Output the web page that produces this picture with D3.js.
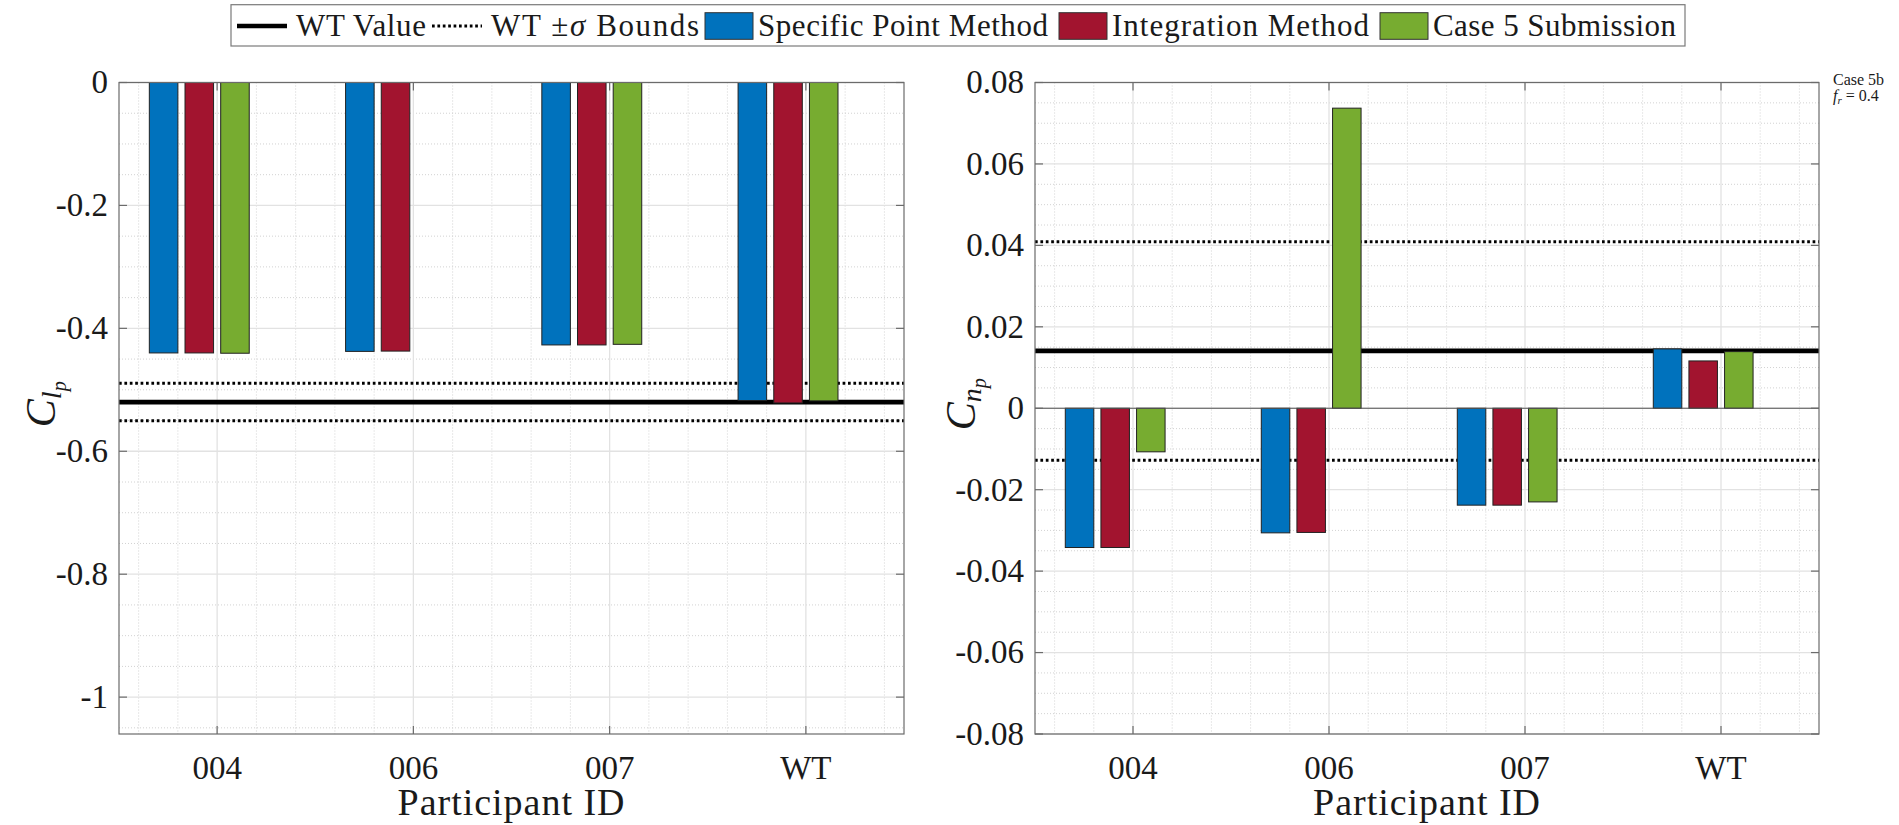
<!DOCTYPE html>
<html><head><meta charset="utf-8">
<script src="https://cdn.jsdelivr.net/npm/d3@7"></script>
<style>
body{margin:0;background:#fff}
svg{display:block}
</style>
</head><body>
<svg id="chart" width="1899" height="825"></svg>
<script>
// ---------------- data ----------------
const categories = ["004", "006", "007", "WT"];
const seriesNames = ["Specific Point Method", "Integration Method", "Case 5 Submission"];
const seriesColors = ["#0072BD", "#A2142F", "#77AC30"];
const slotNames = ["Specific Point Method", "Integration Method", "Case 5 Submission", "(empty)"];

// Left panel: C_lp
const clpSpecific    = [-0.440, -0.4375, -0.427, -0.5175];
const clpIntegration = [-0.440, -0.4370, -0.427, -0.5214];
const clpSubmission  = [-0.4405, NaN,    -0.426, -0.5180];
const clpWT = -0.520;
const clpWTBounds = [-0.4895, -0.5505];
const clpTicks = [0, -0.2, -0.4, -0.6, -0.8, -1];
const clpTickLabels = ["0", "-0.2", "-0.4", "-0.6", "-0.8", "-1"];
const clpDomain = [-1.06, 0];

// Right panel: C_np
const cnpSpecific    = [-0.0342, -0.0306, -0.0238, 0.01457];
const cnpIntegration = [-0.0342, -0.0305, -0.0238, 0.01162];
const cnpSubmission  = [-0.0107,  0.0737, -0.0230, 0.01391];
const cnpWT = 0.0141;
const cnpWTBounds = [0.0409, -0.0128];
const cnpTicks = [0.08, 0.06, 0.04, 0.02, 0, -0.02, -0.04, -0.06, -0.08];
const cnpTickLabels = ["0.08", "0.06", "0.04", "0.02", "0", "-0.02", "-0.04", "-0.06", "-0.08"];
const cnpDomain = [-0.08, 0.08];

const annotationLines = ["Case 5b", "f_r = 0.4"];

// ---------------- drawing ----------------
const FONT = "Liberation Serif";
const TXT = "#1a1a1a";
const svg = d3.select("#chart");
svg.append("rect").attr("width", 1899).attr("height", 825).attr("fill", "#fff");

const AX = "#6b6b6b";
const MAJOR_GRID = "#e2e2e2";
const MINOR_GRID = "#d2d2d2";

function txt(sel) { return sel.attr("font-family", FONT).attr("fill", TXT); }
// spread a text to a target width by letter spacing (no glyph distortion)
function fitWidth(t, target) {
  const n = t.text().length;
  const w = t.node().getComputedTextLength();
  if (n > 1) t.attr("letter-spacing", ((target - w) / (n - 1)).toFixed(2));
  return t;
}

function drawPanel(p) {
  const g = svg.append("g");
  const x = d3.scaleBand().domain(categories).range([p.x0, p.x1]);
  const nSlots = slotNames.length;
  const groupW = Math.min(0.8, nSlots / (nSlots + 1.5));
  x.paddingInner(1 - groupW).paddingOuter((1 - groupW) / 2);
  const xs = d3.scaleBand().domain(slotNames).range([0, x.bandwidth()]).paddingInner(0.2).paddingOuter(0.1);
  const xIdx = d3.scaleLinear().domain([0.5, categories.length + 0.5]).range([p.x0, p.x1]);
  const y = d3.scaleLinear().domain(p.domain).range([p.y1, p.y0]);
  const center = c => x(c) + x.bandwidth() / 2;

  // minor grid (dotted)
  const mStep = p.minorStep;
  const mLo = Math.ceil(p.domain[0] / mStep - 1e-6), mHi = Math.floor(p.domain[1] / mStep + 1e-6);
  const yMinor = d3.range(mLo, mHi + 1).filter(i => i % 4 !== 0).map(i => i * mStep);
  g.selectAll(".ymin").data(yMinor).join("line")
    .attr("x1", p.x0).attr("x2", p.x1).attr("y1", d => y(d)).attr("y2", d => y(d))
    .attr("stroke", MINOR_GRID).attr("stroke-width", 1).attr("stroke-dasharray", "1,2");
  const xMinor = d3.range(3, 5 * categories.length + 3).filter(k => k % 5 !== 0).map(k => k * 0.2);
  g.selectAll(".xmin").data(xMinor).join("line")
    .attr("x1", d => xIdx(d)).attr("x2", d => xIdx(d)).attr("y1", p.y0).attr("y2", p.y1)
    .attr("stroke", MINOR_GRID).attr("stroke-width", 1).attr("stroke-dasharray", "1,2");

  // major grid
  g.selectAll(".ymaj").data(p.ticks).join("line")
    .attr("x1", p.x0).attr("x2", p.x1).attr("y1", d => y(d)).attr("y2", d => y(d))
    .attr("stroke", MAJOR_GRID).attr("stroke-width", 1.3);
  g.selectAll(".xmaj").data(categories).join("line")
    .attr("x1", d => center(d)).attr("x2", d => center(d)).attr("y1", p.y0).attr("y2", p.y1)
    .attr("stroke", MAJOR_GRID).attr("stroke-width", 1.3);

  // WT reference lines (behind bars)
  g.selectAll(".bnd").data(p.bounds).join("line")
    .attr("x1", p.x0).attr("x2", p.x1).attr("y1", d => y(d)).attr("y2", d => y(d))
    .attr("stroke", "#000").attr("stroke-width", 3).attr("stroke-dasharray", "2.7,2.7");
  g.append("line").attr("x1", p.x0).attr("x2", p.x1).attr("y1", y(p.wt)).attr("y2", y(p.wt))
    .attr("stroke", "#000").attr("stroke-width", 4.6);

  // bars
  p.series.forEach((vals, si) => {
    g.selectAll(".bar" + si).data(categories.map((c, i) => ({ c, v: vals[i] })).filter(d => !isNaN(d.v)))
      .join("rect")
      .attr("x", d => x(d.c) + xs(slotNames[si]))
      .attr("width", xs.bandwidth())
      .attr("y", d => y(Math.max(0, d.v)))
      .attr("height", d => Math.abs(y(d.v) - y(0)))
      .attr("fill", seriesColors[si])
      .attr("stroke", "#222").attr("stroke-width", 1);
  });

  // baseline
  if (p.domain[1] > 0 && p.domain[0] < 0) {
    g.append("line").attr("x1", p.x0).attr("x2", p.x1).attr("y1", y(0)).attr("y2", y(0))
      .attr("stroke", "#555").attr("stroke-width", 1);
  }

  // box
  g.append("rect").attr("x", p.x0).attr("y", p.y0).attr("width", p.x1 - p.x0).attr("height", p.y1 - p.y0)
    .attr("fill", "none").attr("stroke", AX).attr("stroke-width", 1.2);

  // ticks (inward, mirrored)
  const tl = 8;
  g.selectAll(".ytl").data(p.ticks).join("line")
    .attr("x1", p.x0).attr("x2", p.x0 + tl).attr("y1", d => y(d)).attr("y2", d => y(d)).attr("stroke", AX).attr("stroke-width", 1.2);
  g.selectAll(".ytr").data(p.ticks).join("line")
    .attr("x1", p.x1).attr("x2", p.x1 - tl).attr("y1", d => y(d)).attr("y2", d => y(d)).attr("stroke", AX).attr("stroke-width", 1.2);
  g.selectAll(".xtb").data(categories).join("line")
    .attr("x1", d => center(d)).attr("x2", d => center(d)).attr("y1", p.y1).attr("y2", p.y1 - tl).attr("stroke", AX).attr("stroke-width", 1.2);
  g.selectAll(".xtt").data(categories).join("line")
    .attr("x1", d => center(d)).attr("x2", d => center(d)).attr("y1", p.y0).attr("y2", p.y0 + tl).attr("stroke", AX).attr("stroke-width", 1.2);

  // tick labels
  txt(g.selectAll(".ylab").data(p.ticks).join("text"))
    .attr("x", p.x0 - 11).attr("y", d => y(d)).attr("dy", "0.33em")
    .attr("text-anchor", "end").attr("font-size", 33)
    .text((d, i) => p.tickLabels[i]);
  txt(g.selectAll(".xlab").data(categories).join("text"))
    .attr("x", d => center(d)).attr("y", p.y1 + 45)
    .attr("text-anchor", "middle").attr("font-size", 33)
    .text(d => d);

  // axis title
  const xt = txt(g.append("text")).attr("x", (p.x0 + p.x1) / 2).attr("y", p.y1 + 81)
    .attr("text-anchor", "middle").attr("font-size", 38)
    .text("Participant ID");
  fitWidth(xt, 227);

  // y label  C_{sub_p}
  const yl = txt(g.append("text"))
    .attr("transform", `translate(${p.labelX},${(p.y0 + p.y1) / 2 - 4}) rotate(-90)`)
    .attr("text-anchor", "middle");
  yl.append("tspan").attr("font-style", "italic").attr("font-size", 42).text("C");
  yl.append("tspan").attr("font-style", "italic").attr("font-size", 28).attr("dy", 6).text(p.sub);
  yl.append("tspan").attr("font-style", "italic").attr("font-size", 20).attr("dy", 5).text("p");
}

const axTop = 82.5, axBottom = 734;
drawPanel({
  x0: 119, x1: 904, y0: axTop, y1: axBottom, domain: clpDomain, ticks: clpTicks, tickLabels: clpTickLabels,
  minorStep: 0.05, series: [clpSpecific, clpIntegration, clpSubmission], wt: clpWT, bounds: clpWTBounds,
  sub: "l", labelX: 55
});
drawPanel({
  x0: 1035, x1: 1819, y0: axTop, y1: axBottom, domain: cnpDomain, ticks: cnpTicks, tickLabels: cnpTickLabels,
  minorStep: 0.005, series: [cnpSpecific, cnpIntegration, cnpSubmission], wt: cnpWT, bounds: cnpWTBounds,
  sub: "n", labelX: 975
});

// annotation (top right)
const ann = svg.append("g");
txt(ann.append("text")).attr("font-size", 16).attr("x", 1833).attr("y", 85).text(annotationLines[0]);
const a2 = txt(ann.append("text")).attr("font-size", 16).attr("x", 1833).attr("y", 101);
a2.append("tspan").attr("font-style", "italic").text("f");
a2.append("tspan").attr("font-style", "italic").attr("font-size", 11).attr("dy", 3).text("r");
a2.append("tspan").attr("dy", -3).text(" = 0.4");

// ---------------- legend ----------------
const legendItems = [
  { kind: "line", label: "WT Value", dash: null },
  { kind: "line", label: "WT \u00B1\u03C3 Bounds", dash: "2.7,2.7" },
  { kind: "patch", label: seriesNames[0], color: seriesColors[0] },
  { kind: "patch", label: seriesNames[1], color: seriesColors[1] },
  { kind: "patch", label: seriesNames[2], color: seriesColors[2] }
];
const legendTextWidths = [130, 208, 290, 257, 243];
const lg = svg.append("g");
const lgBox = lg.append("rect").attr("y", 4.7).attr("height", 41.3).attr("fill", "#fff")
  .attr("stroke", "#7a7a7a").attr("stroke-width", 1.2);
let cx = 237;
const cy = 26;
legendItems.forEach((it, i) => {
  if (it.kind === "line") {
    lg.append("line").attr("x1", cx).attr("x2", cx + 50).attr("y1", cy).attr("y2", cy)
      .attr("stroke", "#000").attr("stroke-width", it.dash ? 3 : 4.6)
      .attr("stroke-dasharray", it.dash);
    cx += 50 + 9;
  } else {
    lg.append("rect").attr("x", cx).attr("y", 12.7).attr("width", 48).attr("height", 26.6)
      .attr("fill", it.color).attr("stroke", "#333").attr("stroke-width", 1);
    cx += 48 + 5;
  }
  const t = txt(lg.append("text")).attr("x", cx).attr("y", cy).attr("dy", "0.33em").attr("font-size", 31);
  if (i === 1) {
    t.append("tspan").text("WT \u00B1");
    t.append("tspan").attr("font-style", "italic").text("\u03C3");
    t.append("tspan").text(" Bounds");
  } else {
    t.text(it.label);
  }
  fitWidth(t, legendTextWidths[i]);
  cx += legendTextWidths[i] + (it.kind === "line" ? 6 : 11);
});
lgBox.attr("x", 231).attr("width", cx - 11 + 9 - 231);
</script>
</body></html>
